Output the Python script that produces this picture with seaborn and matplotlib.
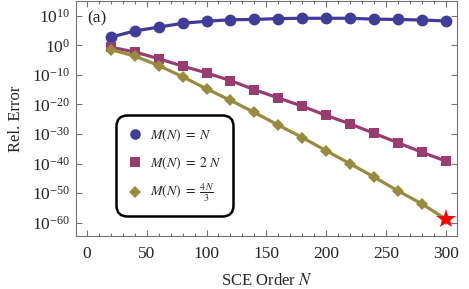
import numpy as np
import pandas as pd
import matplotlib
matplotlib.use("Agg")
import matplotlib.pyplot as plt
import seaborn as sns
from matplotlib.lines import Line2D
from matplotlib.ticker import FixedLocator, MultipleLocator, LogFormatterMathtext, NullLocator

# SCE order and log10 of relative error
order_n = [20, 40, 60, 80, 100, 120, 140, 160, 180, 200, 220, 240, 260, 280, 300]
exp_m_n = [2.8, 4.9, 6.2, 7.5, 8.2, 8.7, 8.8, 9.1, 9.2, 9.2, 9.2, 8.9, 8.8, 8.6, 8.3]
exp_m_2n = [-0.6, -2.2, -4.5, -7.0, -9.3, -11.9, -15.0, -17.8, -20.6, -23.7,
            -26.6, -29.8, -33.0, -36.2, -39.2]
exp_m_4n3 = [-1.4, -3.6, -6.8, -10.6, -14.7, -18.6, -22.7, -27.0, -31.2, -35.7,
             -40.1, -44.6, -49.3, -53.7, -58.9]
star_n = 300
star_exp = -58.9

labels = [r"$M(N)\;=\;N$", r"$M(N)\;=\;2\;N$", r"$M(N)\;=\;\frac{4\,N}{3}$"]
colors = ["#3f3d99", "#993d71", "#998b3d"]
markers = ["o", "s", "D"]
msizes = [8.5, 7.5, 6.5]

sns.set_style("ticks")
plt.rcParams["font.family"] = ["Liberation Serif", "DejaVu Serif"]
plt.rcParams["mathtext.fontset"] = "stix"

df = pd.DataFrame({
    "N": order_n * 3,
    "err": [10.0 ** e for e in exp_m_n + exp_m_2n + exp_m_4n3],
    "series": [labels[0]] * 15 + [labels[1]] * 15 + [labels[2]] * 15,
})

fig = plt.figure(figsize=(4.69, 2.89), dpi=100)
ax = fig.add_axes([0.162, 0.183, 0.812, 0.813])

for lab, c, m, ms in zip(labels, colors, markers, msizes):
    sns.lineplot(data=df[df["series"] == lab], x="N", y="err", ax=ax, color=c,
                 marker=m, markersize=ms, markeredgewidth=0, linewidth=2.3,
                 legend=False)

ax.plot([star_n], [10.0 ** star_exp], marker="*", color="red", markersize=15,
        markeredgewidth=0, linestyle="none", zorder=5)

ax.set_yscale("log")
ax.set_xlim(-9, 309)
ax.set_ylim(10.0 ** -64.6, 10.0 ** 15)
ax.yaxis.set_major_locator(FixedLocator([10.0 ** k for k in range(-60, 11, 10)]))
ax.yaxis.set_major_formatter(LogFormatterMathtext())
ax.yaxis.set_minor_locator(NullLocator())
ax.xaxis.set_major_locator(MultipleLocator(50))
ax.xaxis.set_minor_locator(MultipleLocator(10))

ax.tick_params(which="both", direction="in", top=True, right=True,
               color="0.45", labelsize=12.5, width=0.8)
ax.tick_params(which="major", length=4)
ax.tick_params(which="minor", length=2)
ax.tick_params(axis="x", pad=7)
ax.tick_params(axis="y", pad=4)
for s in ax.spines.values():
    s.set_color("0.45")
    s.set_linewidth(0.8)

ax.set_xlabel(r"SCE Order $N$", fontsize=12, labelpad=8)
ax.set_ylabel("Rel. Error", fontsize=12, labelpad=6)
ax.text(0.03, 0.91, "(a)", transform=ax.transAxes, fontsize=12.5)

handles = [Line2D([], [], color=c, marker=m, markersize=ms * 0.9, linestyle="none",
                  markeredgewidth=0)
           for c, m, ms in zip(colors, markers, msizes)]
leg = ax.legend(handles, labels, loc="lower left", bbox_to_anchor=(0.105, 0.085),
                borderaxespad=0, fontsize=10, frameon=True, fancybox=True,
                framealpha=1, edgecolor="black", labelspacing=0.75,
                handlelength=1.0, handletextpad=0.6, borderpad=0.85)
leg.get_frame().set_linewidth(1.8)
leg.get_frame().set_boxstyle("round,pad=0.0,rounding_size=0.8")

fig.savefig("out.png", dpi=100)
